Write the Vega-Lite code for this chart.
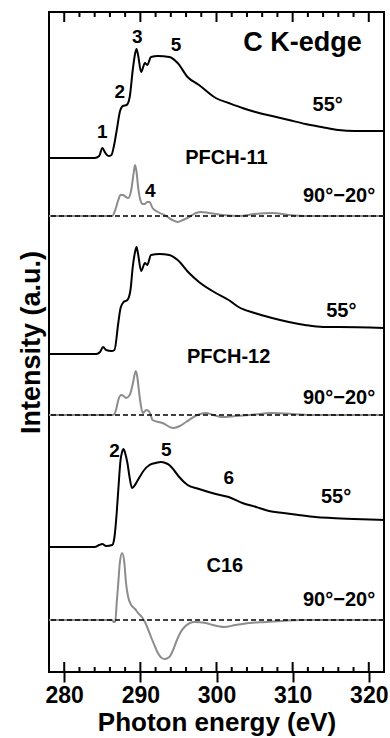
{
  "$schema": "https://vega.github.io/schema/vega-lite/v6.json",
  "width": 335,
  "height": 660,
  "autosize": {"type": "none"},
  "padding": {"left": 49, "top": 12, "right": 6, "bottom": 66},
  "config": {
    "view": {"stroke": "black", "strokeWidth": 2},
    "axis": {"grid": false, "domain": false, "labelFont": "Liberation Sans", "labelFontWeight": 700, "labelColor": "black", "titleFont": "Liberation Sans", "titleFontWeight": 700, "titleColor": "black"}
  },
  "datasets": {
    "spectra": [
      {"series": "PFCH-11 55", "kind": "spectrum", "E": 278.0, "v": 514},
      {"series": "PFCH-11 55", "kind": "spectrum", "E": 284.0, "v": 514},
      {"series": "PFCH-11 55", "kind": "spectrum", "E": 284.6, "v": 516},
      {"series": "PFCH-11 55", "kind": "spectrum", "E": 285.0, "v": 524},
      {"series": "PFCH-11 55", "kind": "spectrum", "E": 285.4, "v": 519},
      {"series": "PFCH-11 55", "kind": "spectrum", "E": 285.8, "v": 516},
      {"series": "PFCH-11 55", "kind": "spectrum", "E": 286.2, "v": 517},
      {"series": "PFCH-11 55", "kind": "spectrum", "E": 286.5, "v": 525},
      {"series": "PFCH-11 55", "kind": "spectrum", "E": 286.9, "v": 542},
      {"series": "PFCH-11 55", "kind": "spectrum", "E": 287.3, "v": 560},
      {"series": "PFCH-11 55", "kind": "spectrum", "E": 287.7, "v": 566},
      {"series": "PFCH-11 55", "kind": "spectrum", "E": 288.2, "v": 567},
      {"series": "PFCH-11 55", "kind": "spectrum", "E": 288.6, "v": 575},
      {"series": "PFCH-11 55", "kind": "spectrum", "E": 289.0, "v": 602},
      {"series": "PFCH-11 55", "kind": "spectrum", "E": 289.3, "v": 618},
      {"series": "PFCH-11 55", "kind": "spectrum", "E": 289.5, "v": 623},
      {"series": "PFCH-11 55", "kind": "spectrum", "E": 289.7, "v": 617},
      {"series": "PFCH-11 55", "kind": "spectrum", "E": 290.1, "v": 600},
      {"series": "PFCH-11 55", "kind": "spectrum", "E": 290.6, "v": 609},
      {"series": "PFCH-11 55", "kind": "spectrum", "E": 290.9, "v": 607},
      {"series": "PFCH-11 55", "kind": "spectrum", "E": 291.4, "v": 615},
      {"series": "PFCH-11 55", "kind": "spectrum", "E": 292.3, "v": 616},
      {"series": "PFCH-11 55", "kind": "spectrum", "E": 293.8, "v": 615},
      {"series": "PFCH-11 55", "kind": "spectrum", "E": 294.9, "v": 609},
      {"series": "PFCH-11 55", "kind": "spectrum", "E": 296.2, "v": 595},
      {"series": "PFCH-11 55", "kind": "spectrum", "E": 297.7, "v": 587},
      {"series": "PFCH-11 55", "kind": "spectrum", "E": 299.9, "v": 574},
      {"series": "PFCH-11 55", "kind": "spectrum", "E": 301.6, "v": 569},
      {"series": "PFCH-11 55", "kind": "spectrum", "E": 303.4, "v": 564},
      {"series": "PFCH-11 55", "kind": "spectrum", "E": 305.1, "v": 560},
      {"series": "PFCH-11 55", "kind": "spectrum", "E": 307.3, "v": 556},
      {"series": "PFCH-11 55", "kind": "spectrum", "E": 309.5, "v": 552},
      {"series": "PFCH-11 55", "kind": "spectrum", "E": 311.7, "v": 548},
      {"series": "PFCH-11 55", "kind": "spectrum", "E": 313.8, "v": 545},
      {"series": "PFCH-11 55", "kind": "spectrum", "E": 316.0, "v": 542},
      {"series": "PFCH-11 55", "kind": "spectrum", "E": 318.2, "v": 541},
      {"series": "PFCH-11 55", "kind": "spectrum", "E": 322.0, "v": 541},

      {"series": "PFCH-11 diff", "kind": "difference", "E": 278.0, "v": 456},
      {"series": "PFCH-11 diff", "kind": "difference", "E": 286.3, "v": 456},
      {"series": "PFCH-11 diff", "kind": "difference", "E": 286.7, "v": 462},
      {"series": "PFCH-11 diff", "kind": "difference", "E": 287.1, "v": 472},
      {"series": "PFCH-11 diff", "kind": "difference", "E": 287.4, "v": 477},
      {"series": "PFCH-11 diff", "kind": "difference", "E": 287.7, "v": 477},
      {"series": "PFCH-11 diff", "kind": "difference", "E": 288.1, "v": 475},
      {"series": "PFCH-11 diff", "kind": "difference", "E": 288.4, "v": 474},
      {"series": "PFCH-11 diff", "kind": "difference", "E": 288.8, "v": 482},
      {"series": "PFCH-11 diff", "kind": "difference", "E": 289.1, "v": 498},
      {"series": "PFCH-11 diff", "kind": "difference", "E": 289.3, "v": 507},
      {"series": "PFCH-11 diff", "kind": "difference", "E": 289.5, "v": 500},
      {"series": "PFCH-11 diff", "kind": "difference", "E": 289.7, "v": 485},
      {"series": "PFCH-11 diff", "kind": "difference", "E": 290.0, "v": 472},
      {"series": "PFCH-11 diff", "kind": "difference", "E": 290.3, "v": 468},
      {"series": "PFCH-11 diff", "kind": "difference", "E": 290.6, "v": 468},
      {"series": "PFCH-11 diff", "kind": "difference", "E": 290.9, "v": 470},
      {"series": "PFCH-11 diff", "kind": "difference", "E": 291.2, "v": 470},
      {"series": "PFCH-11 diff", "kind": "difference", "E": 291.6, "v": 464},
      {"series": "PFCH-11 diff", "kind": "difference", "E": 292.3, "v": 460},
      {"series": "PFCH-11 diff", "kind": "difference", "E": 293.4, "v": 456},
      {"series": "PFCH-11 diff", "kind": "difference", "E": 294.2, "v": 452},
      {"series": "PFCH-11 diff", "kind": "difference", "E": 294.9, "v": 450},
      {"series": "PFCH-11 diff", "kind": "difference", "E": 295.6, "v": 452},
      {"series": "PFCH-11 diff", "kind": "difference", "E": 296.4, "v": 455},
      {"series": "PFCH-11 diff", "kind": "difference", "E": 297.3, "v": 459},
      {"series": "PFCH-11 diff", "kind": "difference", "E": 298.0, "v": 460},
      {"series": "PFCH-11 diff", "kind": "difference", "E": 299.0, "v": 459},
      {"series": "PFCH-11 diff", "kind": "difference", "E": 300.8, "v": 457},
      {"series": "PFCH-11 diff", "kind": "difference", "E": 303.0, "v": 456},
      {"series": "PFCH-11 diff", "kind": "difference", "E": 305.0, "v": 458},
      {"series": "PFCH-11 diff", "kind": "difference", "E": 307.3, "v": 459},
      {"series": "PFCH-11 diff", "kind": "difference", "E": 309.5, "v": 457},
      {"series": "PFCH-11 diff", "kind": "difference", "E": 312.0, "v": 456},
      {"series": "PFCH-11 diff", "kind": "difference", "E": 322.0, "v": 456},

      {"series": "PFCH-12 55", "kind": "spectrum", "E": 278.0, "v": 318},
      {"series": "PFCH-12 55", "kind": "spectrum", "E": 284.2, "v": 318},
      {"series": "PFCH-12 55", "kind": "spectrum", "E": 284.7, "v": 320},
      {"series": "PFCH-12 55", "kind": "spectrum", "E": 285.1, "v": 325},
      {"series": "PFCH-12 55", "kind": "spectrum", "E": 285.5, "v": 322},
      {"series": "PFCH-12 55", "kind": "spectrum", "E": 286.2, "v": 321},
      {"series": "PFCH-12 55", "kind": "spectrum", "E": 286.6, "v": 322},
      {"series": "PFCH-12 55", "kind": "spectrum", "E": 287.1, "v": 349},
      {"series": "PFCH-12 55", "kind": "spectrum", "E": 287.4, "v": 364},
      {"series": "PFCH-12 55", "kind": "spectrum", "E": 287.8, "v": 370},
      {"series": "PFCH-12 55", "kind": "spectrum", "E": 288.3, "v": 372},
      {"series": "PFCH-12 55", "kind": "spectrum", "E": 288.7, "v": 382},
      {"series": "PFCH-12 55", "kind": "spectrum", "E": 289.0, "v": 405},
      {"series": "PFCH-12 55", "kind": "spectrum", "E": 289.3, "v": 420},
      {"series": "PFCH-12 55", "kind": "spectrum", "E": 289.5, "v": 425},
      {"series": "PFCH-12 55", "kind": "spectrum", "E": 289.7, "v": 418},
      {"series": "PFCH-12 55", "kind": "spectrum", "E": 290.1, "v": 401},
      {"series": "PFCH-12 55", "kind": "spectrum", "E": 290.6, "v": 409},
      {"series": "PFCH-12 55", "kind": "spectrum", "E": 290.9, "v": 407},
      {"series": "PFCH-12 55", "kind": "spectrum", "E": 291.4, "v": 417},
      {"series": "PFCH-12 55", "kind": "spectrum", "E": 292.5, "v": 418},
      {"series": "PFCH-12 55", "kind": "spectrum", "E": 293.8, "v": 417},
      {"series": "PFCH-12 55", "kind": "spectrum", "E": 294.9, "v": 412},
      {"series": "PFCH-12 55", "kind": "spectrum", "E": 296.4, "v": 399},
      {"series": "PFCH-12 55", "kind": "spectrum", "E": 297.7, "v": 390},
      {"series": "PFCH-12 55", "kind": "spectrum", "E": 299.9, "v": 379},
      {"series": "PFCH-12 55", "kind": "spectrum", "E": 301.6, "v": 372},
      {"series": "PFCH-12 55", "kind": "spectrum", "E": 302.9, "v": 365},
      {"series": "PFCH-12 55", "kind": "spectrum", "E": 305.0, "v": 359},
      {"series": "PFCH-12 55", "kind": "spectrum", "E": 307.3, "v": 354},
      {"series": "PFCH-12 55", "kind": "spectrum", "E": 309.5, "v": 350},
      {"series": "PFCH-12 55", "kind": "spectrum", "E": 311.6, "v": 347},
      {"series": "PFCH-12 55", "kind": "spectrum", "E": 314.0, "v": 345},
      {"series": "PFCH-12 55", "kind": "spectrum", "E": 316.0, "v": 345},
      {"series": "PFCH-12 55", "kind": "spectrum", "E": 322.0, "v": 344},

      {"series": "PFCH-12 diff", "kind": "difference", "E": 278.0, "v": 257},
      {"series": "PFCH-12 diff", "kind": "difference", "E": 286.4, "v": 257},
      {"series": "PFCH-12 diff", "kind": "difference", "E": 286.8, "v": 262},
      {"series": "PFCH-12 diff", "kind": "difference", "E": 287.1, "v": 272},
      {"series": "PFCH-12 diff", "kind": "difference", "E": 287.5, "v": 277},
      {"series": "PFCH-12 diff", "kind": "difference", "E": 287.8, "v": 276},
      {"series": "PFCH-12 diff", "kind": "difference", "E": 288.1, "v": 274},
      {"series": "PFCH-12 diff", "kind": "difference", "E": 288.6, "v": 277},
      {"series": "PFCH-12 diff", "kind": "difference", "E": 289.0, "v": 288},
      {"series": "PFCH-12 diff", "kind": "difference", "E": 289.4, "v": 301},
      {"series": "PFCH-12 diff", "kind": "difference", "E": 289.6, "v": 295},
      {"series": "PFCH-12 diff", "kind": "difference", "E": 289.8, "v": 282},
      {"series": "PFCH-12 diff", "kind": "difference", "E": 290.0, "v": 270},
      {"series": "PFCH-12 diff", "kind": "difference", "E": 290.3, "v": 259},
      {"series": "PFCH-12 diff", "kind": "difference", "E": 290.8, "v": 262},
      {"series": "PFCH-12 diff", "kind": "difference", "E": 291.2, "v": 260},
      {"series": "PFCH-12 diff", "kind": "difference", "E": 291.6, "v": 252},
      {"series": "PFCH-12 diff", "kind": "difference", "E": 292.9, "v": 249},
      {"series": "PFCH-12 diff", "kind": "difference", "E": 294.3, "v": 244},
      {"series": "PFCH-12 diff", "kind": "difference", "E": 295.2, "v": 246},
      {"series": "PFCH-12 diff", "kind": "difference", "E": 296.0, "v": 250},
      {"series": "PFCH-12 diff", "kind": "difference", "E": 297.5, "v": 257},
      {"series": "PFCH-12 diff", "kind": "difference", "E": 298.6, "v": 259},
      {"series": "PFCH-12 diff", "kind": "difference", "E": 299.6, "v": 257},
      {"series": "PFCH-12 diff", "kind": "difference", "E": 300.7, "v": 255},
      {"series": "PFCH-12 diff", "kind": "difference", "E": 302.5, "v": 256},
      {"series": "PFCH-12 diff", "kind": "difference", "E": 304.3, "v": 257},
      {"series": "PFCH-12 diff", "kind": "difference", "E": 307.3, "v": 259},
      {"series": "PFCH-12 diff", "kind": "difference", "E": 310.0, "v": 258},
      {"series": "PFCH-12 diff", "kind": "difference", "E": 313.0, "v": 257},
      {"series": "PFCH-12 diff", "kind": "difference", "E": 322.0, "v": 257},

      {"series": "C16 55", "kind": "spectrum", "E": 278.0, "v": 125},
      {"series": "C16 55", "kind": "spectrum", "E": 284.0, "v": 125},
      {"series": "C16 55", "kind": "spectrum", "E": 284.6, "v": 127},
      {"series": "C16 55", "kind": "spectrum", "E": 285.0, "v": 128},
      {"series": "C16 55", "kind": "spectrum", "E": 285.5, "v": 126},
      {"series": "C16 55", "kind": "spectrum", "E": 286.3, "v": 127},
      {"series": "C16 55", "kind": "spectrum", "E": 286.6, "v": 135},
      {"series": "C16 55", "kind": "spectrum", "E": 286.9, "v": 160},
      {"series": "C16 55", "kind": "spectrum", "E": 287.1, "v": 182},
      {"series": "C16 55", "kind": "spectrum", "E": 287.4, "v": 212},
      {"series": "C16 55", "kind": "spectrum", "E": 287.6, "v": 220},
      {"series": "C16 55", "kind": "spectrum", "E": 287.8, "v": 223},
      {"series": "C16 55", "kind": "spectrum", "E": 288.0, "v": 219},
      {"series": "C16 55", "kind": "spectrum", "E": 288.3, "v": 209},
      {"series": "C16 55", "kind": "spectrum", "E": 288.6, "v": 194},
      {"series": "C16 55", "kind": "spectrum", "E": 288.9, "v": 184},
      {"series": "C16 55", "kind": "spectrum", "E": 289.2, "v": 186},
      {"series": "C16 55", "kind": "spectrum", "E": 289.9, "v": 195},
      {"series": "C16 55", "kind": "spectrum", "E": 290.5, "v": 202},
      {"series": "C16 55", "kind": "spectrum", "E": 291.2, "v": 207},
      {"series": "C16 55", "kind": "spectrum", "E": 292.0, "v": 209},
      {"series": "C16 55", "kind": "spectrum", "E": 292.7, "v": 210},
      {"series": "C16 55", "kind": "spectrum", "E": 293.3, "v": 209},
      {"series": "C16 55", "kind": "spectrum", "E": 293.8, "v": 207},
      {"series": "C16 55", "kind": "spectrum", "E": 294.5, "v": 201},
      {"series": "C16 55", "kind": "spectrum", "E": 295.1, "v": 195},
      {"series": "C16 55", "kind": "spectrum", "E": 296.2, "v": 187},
      {"series": "C16 55", "kind": "spectrum", "E": 297.7, "v": 183},
      {"series": "C16 55", "kind": "spectrum", "E": 299.9, "v": 178},
      {"series": "C16 55", "kind": "spectrum", "E": 301.6, "v": 175},
      {"series": "C16 55", "kind": "spectrum", "E": 303.4, "v": 169},
      {"series": "C16 55", "kind": "spectrum", "E": 305.2, "v": 165},
      {"series": "C16 55", "kind": "spectrum", "E": 306.9, "v": 161},
      {"series": "C16 55", "kind": "spectrum", "E": 308.8, "v": 159},
      {"series": "C16 55", "kind": "spectrum", "E": 310.8, "v": 157},
      {"series": "C16 55", "kind": "spectrum", "E": 313.0, "v": 155},
      {"series": "C16 55", "kind": "spectrum", "E": 315.1, "v": 154},
      {"series": "C16 55", "kind": "spectrum", "E": 318.0, "v": 153},
      {"series": "C16 55", "kind": "spectrum", "E": 322.0, "v": 152},

      {"series": "C16 diff", "kind": "difference", "E": 278.0, "v": 52},
      {"series": "C16 diff", "kind": "difference", "E": 286.3, "v": 52},
      {"series": "C16 diff", "kind": "difference", "E": 286.5, "v": 50},
      {"series": "C16 diff", "kind": "difference", "E": 286.7, "v": 50},
      {"series": "C16 diff", "kind": "difference", "E": 286.9, "v": 70},
      {"series": "C16 diff", "kind": "difference", "E": 287.1, "v": 89},
      {"series": "C16 diff", "kind": "difference", "E": 287.3, "v": 109},
      {"series": "C16 diff", "kind": "difference", "E": 287.6, "v": 119},
      {"series": "C16 diff", "kind": "difference", "E": 287.9, "v": 109},
      {"series": "C16 diff", "kind": "difference", "E": 288.1, "v": 90},
      {"series": "C16 diff", "kind": "difference", "E": 288.4, "v": 75},
      {"series": "C16 diff", "kind": "difference", "E": 288.8, "v": 67},
      {"series": "C16 diff", "kind": "difference", "E": 289.3, "v": 63},
      {"series": "C16 diff", "kind": "difference", "E": 289.7, "v": 59},
      {"series": "C16 diff", "kind": "difference", "E": 290.2, "v": 55},
      {"series": "C16 diff", "kind": "difference", "E": 290.6, "v": 50},
      {"series": "C16 diff", "kind": "difference", "E": 291.0, "v": 43},
      {"series": "C16 diff", "kind": "difference", "E": 291.4, "v": 35},
      {"series": "C16 diff", "kind": "difference", "E": 291.9, "v": 26},
      {"series": "C16 diff", "kind": "difference", "E": 292.3, "v": 19},
      {"series": "C16 diff", "kind": "difference", "E": 292.8, "v": 14},
      {"series": "C16 diff", "kind": "difference", "E": 293.2, "v": 13},
      {"series": "C16 diff", "kind": "difference", "E": 293.8, "v": 15},
      {"series": "C16 diff", "kind": "difference", "E": 294.3, "v": 22},
      {"series": "C16 diff", "kind": "difference", "E": 294.7, "v": 30},
      {"series": "C16 diff", "kind": "difference", "E": 295.3, "v": 40},
      {"series": "C16 diff", "kind": "difference", "E": 295.8, "v": 45},
      {"series": "C16 diff", "kind": "difference", "E": 296.5, "v": 49},
      {"series": "C16 diff", "kind": "difference", "E": 297.1, "v": 50},
      {"series": "C16 diff", "kind": "difference", "E": 298.6, "v": 49},
      {"series": "C16 diff", "kind": "difference", "E": 299.5, "v": 47},
      {"series": "C16 diff", "kind": "difference", "E": 301.0, "v": 45},
      {"series": "C16 diff", "kind": "difference", "E": 302.5, "v": 47},
      {"series": "C16 diff", "kind": "difference", "E": 304.3, "v": 49},
      {"series": "C16 diff", "kind": "difference", "E": 306.5, "v": 50},
      {"series": "C16 diff", "kind": "difference", "E": 308.6, "v": 51},
      {"series": "C16 diff", "kind": "difference", "E": 311.0, "v": 52},
      {"series": "C16 diff", "kind": "difference", "E": 322.0, "v": 52}
    ],
    "baselines": [
      {"sample": "PFCH-11", "v": 456},
      {"sample": "PFCH-12", "v": 257},
      {"sample": "C16", "v": 52}
    ],
    "tickpaths": [
      {"tick": "b280", "E": 280, "v": 0}, {"tick": "b280", "E": 280, "v": 10},
      {"tick": "b290", "E": 290, "v": 0}, {"tick": "b290", "E": 290, "v": 10},
      {"tick": "b300", "E": 300, "v": 0}, {"tick": "b300", "E": 300, "v": 10},
      {"tick": "b310", "E": 310, "v": 0}, {"tick": "b310", "E": 310, "v": 10},
      {"tick": "b320", "E": 320, "v": 0}, {"tick": "b320", "E": 320, "v": 10},
      {"tick": "t280", "E": 280, "v": 660}, {"tick": "t280", "E": 280, "v": 650},
      {"tick": "t290", "E": 290, "v": 660}, {"tick": "t290", "E": 290, "v": 650},
      {"tick": "t300", "E": 300, "v": 660}, {"tick": "t300", "E": 300, "v": 650},
      {"tick": "t310", "E": 310, "v": 660}, {"tick": "t310", "E": 310, "v": 650},
      {"tick": "t320", "E": 320, "v": 660}, {"tick": "t320", "E": 320, "v": 650},
      {"tick": "b282", "E": 282, "v": 0}, {"tick": "b282", "E": 282, "v": 5},
      {"tick": "b284", "E": 284, "v": 0}, {"tick": "b284", "E": 284, "v": 5},
      {"tick": "b286", "E": 286, "v": 0}, {"tick": "b286", "E": 286, "v": 5},
      {"tick": "b288", "E": 288, "v": 0}, {"tick": "b288", "E": 288, "v": 5},
      {"tick": "b292", "E": 292, "v": 0}, {"tick": "b292", "E": 292, "v": 5},
      {"tick": "b294", "E": 294, "v": 0}, {"tick": "b294", "E": 294, "v": 5},
      {"tick": "b296", "E": 296, "v": 0}, {"tick": "b296", "E": 296, "v": 5},
      {"tick": "b298", "E": 298, "v": 0}, {"tick": "b298", "E": 298, "v": 5},
      {"tick": "b302", "E": 302, "v": 0}, {"tick": "b302", "E": 302, "v": 5},
      {"tick": "b304", "E": 304, "v": 0}, {"tick": "b304", "E": 304, "v": 5},
      {"tick": "b306", "E": 306, "v": 0}, {"tick": "b306", "E": 306, "v": 5},
      {"tick": "b308", "E": 308, "v": 0}, {"tick": "b308", "E": 308, "v": 5},
      {"tick": "b312", "E": 312, "v": 0}, {"tick": "b312", "E": 312, "v": 5},
      {"tick": "b314", "E": 314, "v": 0}, {"tick": "b314", "E": 314, "v": 5},
      {"tick": "b316", "E": 316, "v": 0}, {"tick": "b316", "E": 316, "v": 5},
      {"tick": "b318", "E": 318, "v": 0}, {"tick": "b318", "E": 318, "v": 5},
      {"tick": "t282", "E": 282, "v": 660}, {"tick": "t282", "E": 282, "v": 655},
      {"tick": "t284", "E": 284, "v": 660}, {"tick": "t284", "E": 284, "v": 655},
      {"tick": "t286", "E": 286, "v": 660}, {"tick": "t286", "E": 286, "v": 655},
      {"tick": "t288", "E": 288, "v": 660}, {"tick": "t288", "E": 288, "v": 655},
      {"tick": "t292", "E": 292, "v": 660}, {"tick": "t292", "E": 292, "v": 655},
      {"tick": "t294", "E": 294, "v": 660}, {"tick": "t294", "E": 294, "v": 655},
      {"tick": "t296", "E": 296, "v": 660}, {"tick": "t296", "E": 296, "v": 655},
      {"tick": "t298", "E": 298, "v": 660}, {"tick": "t298", "E": 298, "v": 655},
      {"tick": "t302", "E": 302, "v": 660}, {"tick": "t302", "E": 302, "v": 655},
      {"tick": "t304", "E": 304, "v": 660}, {"tick": "t304", "E": 304, "v": 655},
      {"tick": "t306", "E": 306, "v": 660}, {"tick": "t306", "E": 306, "v": 655},
      {"tick": "t308", "E": 308, "v": 660}, {"tick": "t308", "E": 308, "v": 655},
      {"tick": "t312", "E": 312, "v": 660}, {"tick": "t312", "E": 312, "v": 655},
      {"tick": "t314", "E": 314, "v": 660}, {"tick": "t314", "E": 314, "v": 655},
      {"tick": "t316", "E": 316, "v": 660}, {"tick": "t316", "E": 316, "v": 655},
      {"tick": "t318", "E": 318, "v": 660}, {"tick": "t318", "E": 318, "v": 655}
    ],
    "labels": [
      {"text": "C K-edge", "kind": "big", "E": 311.3, "v": 629},
      {"text": "PFCH-11", "kind": "sample", "E": 301.3, "v": 514},
      {"text": "PFCH-12", "kind": "sample", "E": 301.6, "v": 315},
      {"text": "C16", "kind": "sample", "E": 301.1, "v": 106},
      {"text": "55°", "kind": "angle", "E": 314.6, "v": 567},
      {"text": "90°−20°", "kind": "angle", "E": 316.1, "v": 476},
      {"text": "55°", "kind": "angle", "E": 316.4, "v": 361},
      {"text": "90°−20°", "kind": "angle", "E": 316.1, "v": 274},
      {"text": "55°", "kind": "angle", "E": 315.7, "v": 175},
      {"text": "90°−20°", "kind": "angle", "E": 316.1, "v": 72},
      {"text": "1", "kind": "peak", "E": 285.0, "v": 540},
      {"text": "2", "kind": "peak", "E": 287.3, "v": 580},
      {"text": "3", "kind": "peak", "E": 289.6, "v": 635},
      {"text": "5", "kind": "peak", "E": 294.7, "v": 627},
      {"text": "4", "kind": "peak", "E": 291.3, "v": 481},
      {"text": "2", "kind": "peak", "E": 286.6, "v": 221},
      {"text": "5", "kind": "peak", "E": 293.4, "v": 222},
      {"text": "6", "kind": "peak", "E": 301.6, "v": 194}
    ]
  },
  "layer": [
    {
      "data": {"name": "spectra"},
      "mark": {"type": "line", "strokeWidth": 2, "interpolate": "monotone", "clip": true},
      "encoding": {
        "x": {
          "field": "E", "type": "quantitative",
          "scale": {"domain": [278, 322], "nice": false, "zero": false},
          "axis": {
            "orient": "bottom",
            "values": [280, 290, 300, 310, 320],
            "grid": false, "domain": false,
            "ticks": true, "tickSize": 10, "tickWidth": 2, "tickColor": "black", "tickOffset": 0,
            "labelFont": "Liberation Sans", "labelFontSize": 23, "labelFontWeight": 700, "labelColor": "black", "labelPadding": 2,
            "title": "Photon energy (eV)", "titleFont": "Liberation Sans", "titleFontSize": 26, "titleFontWeight": 700, "titleColor": "black", "titlePadding": 2
          }
        },
        "y": {
          "field": "v", "type": "quantitative",
          "scale": {"domain": [0, 660], "nice": false, "zero": false},
          "axis": {
            "grid": false, "ticks": false, "labels": false, "domain": false,
            "title": "Intensity (a.u.)", "titleFont": "Liberation Sans", "titleFontSize": 27, "titleFontWeight": 700, "titleColor": "black", "titlePadding": 4
          }
        },
        "color": {
          "field": "kind", "type": "nominal",
          "scale": {"domain": ["spectrum", "difference"], "range": ["#000000", "#8c8c8c"]},
          "legend": null
        },
        "detail": {"field": "series"}
      }
    },
    {
      "data": {"name": "tickpaths"},
      "mark": {"type": "line", "strokeWidth": 2, "color": "black"},
      "encoding": {
        "x": {"field": "E", "type": "quantitative"},
        "y": {"field": "v", "type": "quantitative"},
        "detail": {"field": "tick"}
      }
    },
    {
      "data": {"name": "baselines"},
      "mark": {"type": "rule", "strokeDash": [5, 3], "strokeWidth": 1.5, "color": "black"},
      "encoding": {"y": {"field": "v", "type": "quantitative"}}
    },
    {
      "data": {"name": "labels"},
      "transform": [{"filter": "datum.kind === 'big'"}],
      "mark": {"type": "text", "font": "Liberation Sans", "fontSize": 27, "fontWeight": "bold", "color": "black", "align": "center", "baseline": "middle"},
      "encoding": {"x": {"field": "E", "type": "quantitative"}, "y": {"field": "v", "type": "quantitative"}, "text": {"field": "text"}}
    },
    {
      "data": {"name": "labels"},
      "transform": [{"filter": "datum.kind === 'sample' || datum.kind === 'angle'"}],
      "mark": {"type": "text", "font": "Liberation Sans", "fontSize": 20, "fontWeight": "bold", "color": "black", "align": "center", "baseline": "middle"},
      "encoding": {"x": {"field": "E", "type": "quantitative"}, "y": {"field": "v", "type": "quantitative"}, "text": {"field": "text"}}
    },
    {
      "data": {"name": "labels"},
      "transform": [{"filter": "datum.kind === 'peak'"}],
      "mark": {"type": "text", "font": "Liberation Sans", "fontSize": 19, "fontWeight": "bold", "color": "black", "align": "center", "baseline": "middle"},
      "encoding": {"x": {"field": "E", "type": "quantitative"}, "y": {"field": "v", "type": "quantitative"}, "text": {"field": "text"}}
    }
  ]
}
